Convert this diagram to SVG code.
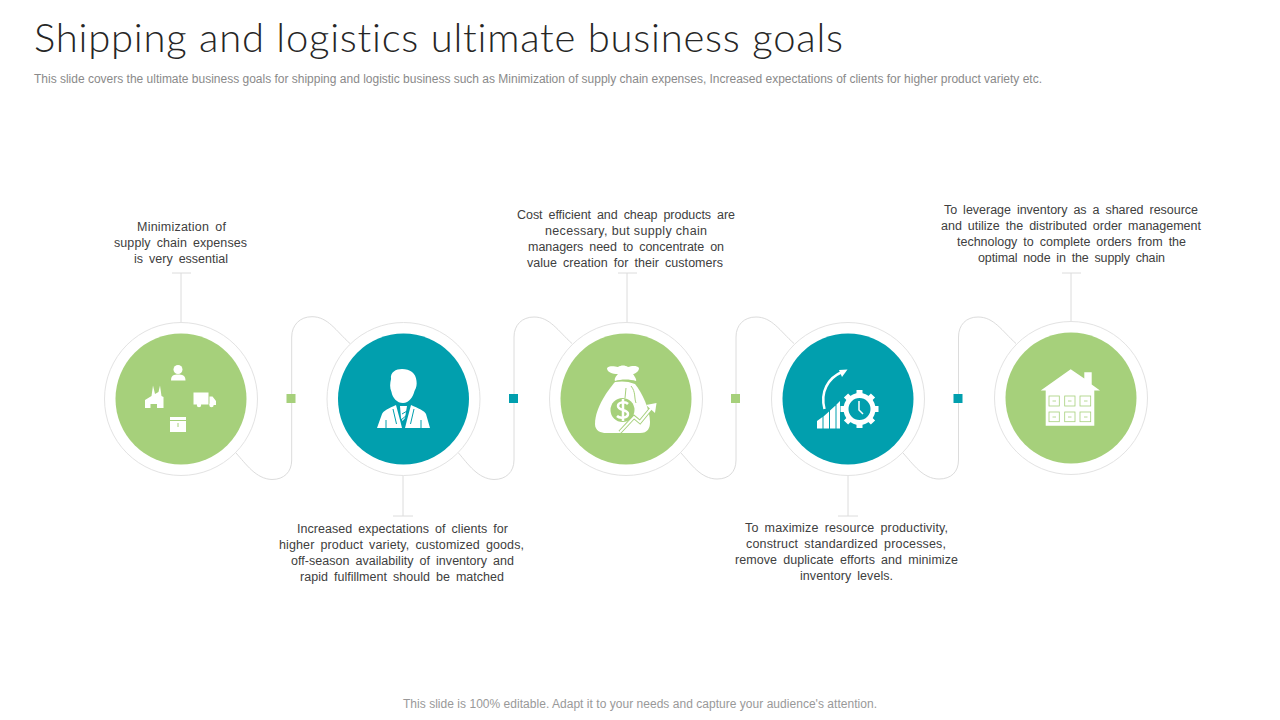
<svg xmlns="http://www.w3.org/2000/svg" width="1280" height="720" viewBox="0 0 1280 720">
<style>
.t{font-family:"Liberation Sans",Arial,sans-serif;font-size:12.500px;fill:#404040;text-anchor:start;word-spacing:2.500px}
.ring{fill:#fff;stroke:#e3e3e3;stroke-width:1}
.g{fill:#a6d07b}.b{fill:#019fae}
.w{fill:#fff}
.c{fill:none;stroke:#dcdcdc;stroke-width:1}
</style>
<rect width="1280" height="720" fill="#fff"/>
<text x="34" y="52" style="font-family:Lato,'Liberation Sans',sans-serif;font-weight:300;font-size:40px;fill:#262626;font-variant-ligatures:none" textLength="809" lengthAdjust="spacing">Shipping and logistics ultimate business goals</text>
<text x="34" y="83" style="font-family:'Liberation Sans',Arial,sans-serif;font-size:12px;fill:#8a8a8a" textLength="1008" lengthAdjust="spacing">This slide covers the ultimate business goals for shipping and logistic business such as Minimization of supply chain expenses, Increased expectations of clients for higher product variety etc.</text>
<g id="connectors">
<path class="c" d="M236 453C246 464 256 479 272 479.500C284 479.500 291.700 472 291.700 460V337C291.700 325 300 316.700 312 316.700C328 316.700 336 331 350 343.500"/>
<path class="c" d="M458.500 453C468 464 478 479 494 479.500C506 479.500 514 472 514 460V337C514 325 522 317 534 317C550 317 558 331 572 343.500"/>
<path class="c" d="M681 453C691 464 701 479 717 479C729 479 736 472 736 460V337C736 325 744 317 756 317C772 317 780 331 794 343.500"/>
<path class="c" d="M903 453C913 464 923 479 939 479C951 479 958.500 472 958.500 460V337C958.500 325 966 317 978 317C994 317 1002 331 1016 343.500"/>
<path class="c" d="M181 273V323M172 273H191"/>
<path class="c" d="M403 475V516M393 516H413"/>
<path class="c" d="M627 273V323M618 273H637"/>
<path class="c" d="M848 475V516M838 516H858"/>
<path class="c" d="M1071 273V322M1062 273H1081"/>
</g>
<rect class="g" x="286.500" y="394" width="9" height="9"/>
<rect class="b" x="509" y="394" width="9" height="9"/>
<rect class="g" x="731" y="394" width="9" height="9"/>
<rect class="b" x="953.500" y="394" width="9" height="9"/>

<g id="node1">
<circle class="ring" cx="181" cy="399" r="76.500"/><circle class="g" cx="181" cy="399" r="65.500"/>
<circle class="w" cx="178" cy="369.500" r="4.500"/><path class="w" d="M171 380.500C171 375 174 374.500 178 374.500C182 374.500 185.500 375 185.500 380.500Z"/>
<path class="w" d="M145 408V400L151.500 396L153 385.500L155 394L158.500 392L160 385.500L161.500 396L163.500 397V408Z"/>
<rect class="g" x="150.500" y="404" width="6.500" height="4"/>
<path class="w" d="M193.500 392.500H208.500V404.500H193.500ZM209.500 396.500H212.500L216 401V405H209.500Z"/><circle class="w" cx="199" cy="405" r="2.200"/><circle class="w" cx="211.500" cy="405" r="2.200"/>
<rect class="w" x="170" y="417" width="16" height="15"/>
<path d="M170 420.500H186M178 423V427" stroke="#a6d07b" stroke-width="1" fill="none"/>
</g>
<g id="node2">
<circle class="ring" cx="403.500" cy="399" r="76.500"/><circle class="b" cx="403.500" cy="399" r="65.500"/>
<path class="w" d="M391 379C390 372 396 369 402 369C410 369 416 373 416.500 381C417 384 416.500 388 414.500 391C413 397 409 403 403 403C397 403 392.500 398 391.500 392C389.500 388 390 383 391 379Z"/>
<path class="w" d="M377 428L382 414C383 411 389 408 396 405L400 420L402 428ZM430 428L426 414C425 411 418 408 411 405L407 420L405 428Z"/>
<path class="w" d="M400 406H407L405 418L402.500 421L401 418Z"/>
<path d="M393 409L396.500 424M414 409L410.500 424M402 414L407 411M401 420L407 415M386 420V428M421 420V428" stroke="#019fae" stroke-width="1" fill="none"/>
</g>
<g id="node3">
<circle class="ring" cx="626" cy="399" r="76.500"/><circle class="g" cx="626" cy="399" r="65.500"/>
<path class="w" d="M607 368C611 365 615 367 618 367C621 365 625 365 628 367C631 366 637 365 639 368C639 372 634 374 633 374C635 377 637 380 636 381C630 379 621 379 615 381C614 379 616 376 618 374C612 374 607 372 607 368Z"/>
<path class="w" d="M615 382C608 390 595 408 595 424C595 431 601 433 606 433H640C648 433 650 428 650 422C650 410 642 392 635 384C628 381 621 381 615 382Z"/>
<path d="M626 388L625 398M631 386C636 392 634 398 636 403" stroke="#a6d07b" stroke-width="1" fill="none"/>
<circle class="g" cx="622.500" cy="410" r="12"/>
<path d="M628 404C625 401 618 402 618 406C618 411 628 409 628 414C628 418 620 419 617 416M623 399V421" stroke="#fff" stroke-width="2.500" fill="none"/>
<path d="M620 432L634 417L640 422L654 405" stroke="#a6d07b" stroke-width="4" fill="none"/>
<path d="M620 432L634 417L640 422L654 405" stroke="#fff" stroke-width="2" fill="none"/>
<path class="w" d="M646 405L656.500 403L655 413Z"/>
</g>
<g id="node4">
<circle class="ring" cx="848" cy="399" r="76.500"/><circle class="b" cx="848" cy="399" r="65.500"/>
<path d="M824.500 409C820 392 828 378 842 372" stroke="#fff" stroke-width="2.500" fill="none"/>
<path class="w" d="M839 370L847.500 369.500L842 377Z"/>
<path class="w" d="M817 428.500V421L822.500 417V428.500ZM823.500 428.500V416.500L829 411.500V428.500ZM830 428.500V410.500L835.500 405.500V428.500ZM836.500 428.500V404.500L840 401V428.500Z"/>
<circle cx="859.500" cy="409" r="13.500" stroke="#fff" stroke-width="5" fill="#019fae"/>
<path d="M859.500 390V396M859.500 422V428M840.500 409H846.500M872.500 409H878.500M846 395.500L850.500 400M873 395.500L868.500 400M846 422.500L850.500 418M873 422.500L868.500 418" stroke="#fff" stroke-width="6" fill="none"/>
<path d="M859 401V410L863 414" stroke="#fff" stroke-width="1.500" fill="none"/>
</g>
<g id="node5">
<circle class="ring" cx="1071" cy="398" r="76.500"/><circle class="g" cx="1071" cy="398" r="65.500"/>
<path class="w" d="M1040.700 390.500L1070.700 369.300L1084.300 378.500V372.300H1091.700V384.500L1100 390.500H1094.300V425.700H1045.700V390.500Z"/>
<g fill="none" stroke="#a6d07b" stroke-width="0.800">
<rect x="1049" y="396" width="10.300" height="10"/><rect x="1064.700" y="396" width="10.300" height="10"/><rect x="1080" y="396" width="10.700" height="10"/>
<rect x="1049" y="412" width="10.300" height="9.700"/><rect x="1064.700" y="412" width="10.300" height="9.700"/><rect x="1080" y="412" width="10.700" height="9.700"/>
<path d="M1052.500 401H1056M1068 401H1071.500M1084 401H1087.500M1052.500 417H1056M1068 417H1071.500M1084 417H1087.500"/>
</g>
</g>

<g id="text1"><text class="t" x="137" y="231" textLength="89">Minimization of</text><text class="t" x="114" y="247" textLength="133">supply chain expenses</text><text class="t" x="134" y="263" textLength="94">is very essential</text></g>
<g id="text2"><text class="t" x="297" y="533" textLength="211">Increased expectations of clients for</text><text class="t" x="279" y="549" textLength="245">higher product variety, customized goods,</text><text class="t" x="291" y="565" textLength="223">off-season availability of inventory and</text><text class="t" x="300" y="581" textLength="204">rapid fulfillment should be matched</text></g>
<g id="text3"><text class="t" x="517" y="219" textLength="218">Cost efficient and cheap products are</text><text class="t" x="545" y="235" textLength="162" style="word-spacing:0">necessary, but supply chain</text><text class="t" x="528" y="251" textLength="196">managers need to concentrate on</text><text class="t" x="527" y="267" textLength="196">value creation for their customers</text></g>
<g id="text4"><text class="t" x="745" y="532" textLength="203">To maximize resource productivity,</text><text class="t" x="746" y="548" textLength="200">construct standardized processes,</text><text class="t" x="735" y="564" textLength="223">remove duplicate efforts and minimize</text><text class="t" x="800" y="580" textLength="93">inventory levels.</text></g>
<g id="text5"><text class="t" x="944" y="214" textLength="254">To leverage inventory as a shared resource</text><text class="t" x="941" y="230" textLength="260">and utilize the distributed order management</text><text class="t" x="957" y="246" textLength="229">technology to complete orders from the</text><text class="t" x="978" y="262" textLength="187">optimal node in the supply chain</text></g>
<text x="403" y="708" style="font-family:'Liberation Sans',Arial,sans-serif;font-size:12px;fill:#999" textLength="474">This slide is 100% editable. Adapt it to your needs and capture your audience's attention.</text>
</svg>
